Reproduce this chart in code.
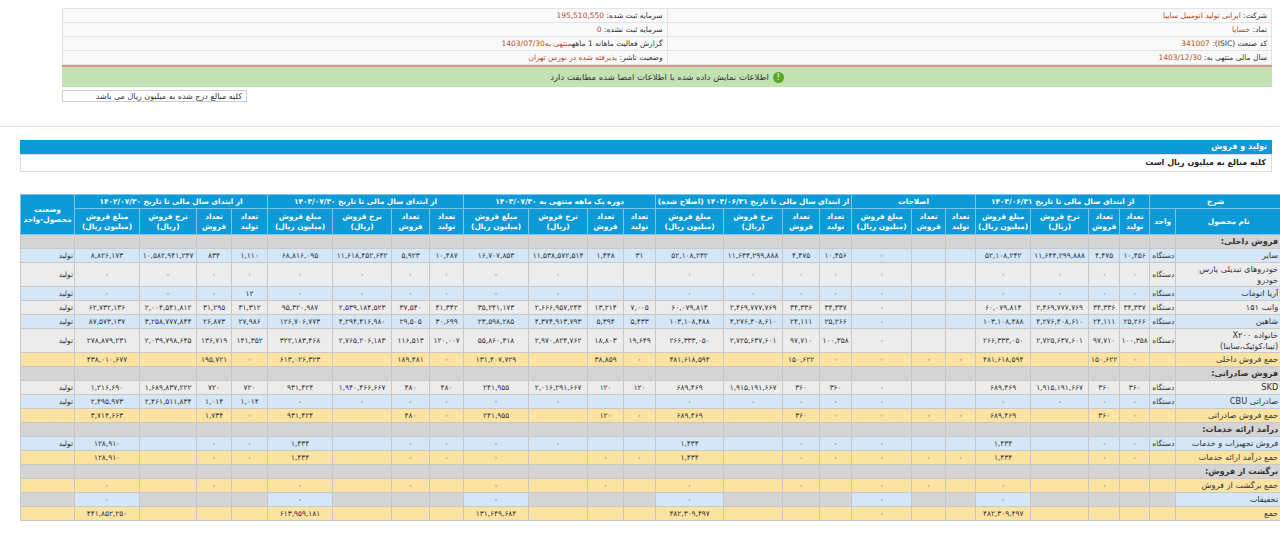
<!DOCTYPE html>
<html lang="fa" dir="rtl">
<head>
<meta charset="utf-8">
<script src="https://cdn.jsdelivr.net/npm/chart.js@4"></script>
<style>
  body { margin: 0; background: #fff; font-family: "DejaVu Sans", sans-serif; font-size: 8px; color: #333; }
  .info { position: absolute; left: 62px; top: 8px; width: 1210px; border-collapse: collapse; }
  .info td { height: 13px; border: 1px solid #e3e3e3; background: #f9f9f9; padding: 0 4px; width: 50%; white-space: nowrap; font-size: 7.5px; }
  .info .v { color: #b0502a; }
  .green { position: absolute; left: 62px; top: 65px; width: 1210px; height: 20px; background: #c3e2b4; border-top: 2px solid #d9968a; text-align: center; line-height: 20px; font-size: 8.5px; }
  .green i { display: inline-block; width: 11px; height: 11px; border-radius: 6px; background: #5aa62a; color: #fff; font-style: normal; line-height: 11px; vertical-align: middle; margin-left: 4px; }
  .note { position: absolute; left: 62px; top: 90px; width: 185px; height: 12px; border: 1px solid #ccc; line-height: 12px; padding-right: 4px; box-sizing: border-box; }
  .sep { position: absolute; left: 0; top: 126px; width: 1280px; border-top: 1px solid #ddd; }
  .sec { position: absolute; left: 20px; top: 140px; width: 1252px; }
  .sec .t { background: #0d9ad6; color: #fff; font-weight: bold; height: 14px; line-height: 14px; padding-right: 5px; }
  .sec .s { border: 1px solid #ddd; height: 16px; line-height: 16px; padding-right: 5px; font-weight: bold; color: #222; }
  #tbl { position: absolute; left: 20px; top: 194px; width: 1252px; border-collapse: collapse; table-layout: fixed; }
  #tbl td, #tbl th { border: 1px solid #c8c8c8; padding: 0 1px; height: 13px; white-space: nowrap; overflow: hidden; font-weight: normal; font-size: 7.4px; }
  #tbl th { background: #0d9ad6; color: #fff; font-weight: bold; border-color: #7cc4e8; text-align: center; white-space: normal; line-height: 10px; }
  #tbl tr.g th { white-space: nowrap; }
  #tbl td.n { text-align: center; }
  #tbl td.nm { text-align: right; white-space: normal; line-height: 11px; padding-right: 3px; font-size: 8.2px; }
  tr.blue td { background: #d5e6f6; }
  tr.grey td { background: #ececec; }
  tr.tot td { background: #fde3a1; }
  tr.lab td { background: #d4d4d4; font-weight: bold !important; }
  tr.disc td { background: #d4d4d4; }
  tr.disc td.a, tr.disc td.nm { background: #d5e6f6; }
</style>
</head>
<body>
<table class="info">
  <tr><td>شرکت: <span class="v">ایرانی تولید اتومبیل سایپا</span></td><td>سرمایه ثبت شده: <span class="v">195,510,550</span></td></tr>
  <tr><td>نماد: <span class="v">خسایا</span></td><td>سرمایه ثبت نشده: <span class="v">0</span></td></tr>
  <tr><td>کد صنعت (ISIC): <span class="v">341007</span></td><td>گزارش فعالیت ماهانه 1 ماهه<span class="v">منتهی به1403/07/30</span></td></tr>
  <tr><td>سال مالی منتهی به: <span class="v">1403/12/30</span></td><td>وضعیت ناشر: <span class="v">پذیرفته شده در بورس تهران</span></td></tr>
</table>
<div class="green"><i>!</i>اطلاعات نمایش داده شده با اطلاعات امضا شده مطابقت دارد</div>
<div class="note">کلیه مبالغ درج شده به میلیون ریال می باشد</div>
<div class="sep"></div>
<div class="sec"><div class="t">تولید و فروش</div><div class="s">کلیه مبالغ به میلیون ریال است</div></div>
<table id="tbl"></table>
<script>
// column groups (right to left)
const groupTitles = ['از ابتدای سال مالی تا تاریخ ۱۴۰۳/۰۶/۳۱', 'اصلاحات', 'از ابتدای سال مالی تا تاریخ ۱۴۰۳/۰۶/۳۱ (اصلاح شده)', 'دوره یک ماهه منتهی به ۱۴۰۳/۰۷/۳۰', 'از ابتدای سال مالی تا تاریخ ۱۴۰۳/۰۷/۳۰', 'از ابتدای سال مالی تا تاریخ ۱۴۰۲/۰۷/۳۰'];
const subFull = ['تعداد تولید', 'تعداد فروش', 'نرخ فروش (ریال)', 'مبلغ فروش (میلیون ریال)'];
const subAdj = ['تعداد تولید', 'تعداد فروش', 'مبلغ فروش (میلیون ریال)'];

const rowNames = ['فروش داخلی:', 'سایر', 'خودروهای تبدیلی پارس خودرو', 'آریا اتومات', 'وانت ۱۵۱', 'شاهین', 'خانواده X۲۰۰ (تیبا،کوئیک،ساینا)', 'جمع فروش داخلی', 'فروش صادراتی:', 'SKD', 'صادراتی CBU', 'جمع فروش صادراتی', 'درآمد ارائه خدمات:', 'فروش تجهیزات و خدمات', 'جمع درآمد ارائه خدمات', 'برگشت از فروش:', 'جمع برگشت از فروش', 'تخفیفات', 'جمع'];
const rowKinds = ['lab', 'blue', 'grey', 'blue', 'grey', 'blue', 'grey', 'tot', 'lab', 'grey', 'blue', 'tot', 'lab', 'blue', 'tot', 'lab', 'tot', 'disc', 'tot'];
const units = ['', 'دستگاه', 'دستگاه', 'دستگاه', 'دستگاه', 'دستگاه', 'دستگاه', '', '', 'دستگاه', 'دستگاه', '', '', 'دستگاه', '', '', '', '', ''];
const status = ['', 'تولید', 'تولید', 'تولید', 'تولید', 'تولید', 'تولید', '', '', 'تولید', 'تولید', '', '', 'تولید', '', '', '', '', ''];

// 1403/06/31: production, sales, rate, amount
const ytdJun = [null,
  ['10,456', '4,475', '11,644,299,888', '52,108,242'], ['0', '0', '0', '0'], ['0', '0', '0', '0'],
  ['34,337', '34,336', '2,469,777,769', '60,079,814'], ['25,266', '24,111', '4,276,408,610', '103,108,488'],
  ['100,358', '97,710', '2,725,637,601', '266,333,050'], ['0', '150,622', '', '481,618,594'], null,
  ['360', '360', '1,915,191,667', '689,469'], ['0', '0', '0', '0'], ['0', '360', '', '689,469'], null,
  ['0', '0', '', '1,434'], ['0', '0', '', '1,434'], null, ['', '0', '', '0'], ['', '', '', '0'], ['', '', '', '482,309,497']];
// adjustments: production, sales, amount
const adjust = [null, ['', '', '0'], ['', '', '0'], ['', '', '0'], ['', '', '0'], ['', '', '0'], ['', '', '0'], ['0', '0', '0'], null,
  ['', '', '0'], ['', '', '0'], ['0', '0', '0'], null, ['', '', '0'], ['0', '0', '0'], null, ['', '0', '0'], ['', '', '0'], ['', '', '0']];
// 1403/06/31 adjusted
const ytdJunAdj = ytdJun;
// one month to 1403/07/30
const month = [null,
  ['31', '1,448', '11,538,572,514', '16,707,853'], ['', '', '0', '0'], ['', '', '0', '0'],
  ['7,005', '13,214', '2,666,957,243', '35,241,173'], ['5,433', '5,394', '4,374,913,793', '23,598,285'],
  ['19,649', '18,803', '2,970,824,762', '55,860,418'], ['0', '38,859', '', '131,407,729'], null,
  ['120', '120', '2,016,291,667', '241,955'], ['', '', '0', '0'], ['0', '120', '', '241,955'], null,
  ['', '', '0', '0'], ['0', '0', '', '0'], null, ['', '0', '', '0'], ['', '', '', '0'], ['', '', '', '131,649,684']];
// 1403 year to date
const ytd1403 = [null,
  ['10,487', '5,923', '11,618,452,642', '68,816,095'], ['0', '0', '0', '0'], ['0', '0', '0', '0'],
  ['41,342', '37,540', '2,539,184,523', '95,320,987'], ['30,699', '29,505', '4,294,416,980', '126,706,773'],
  ['120,007', '116,513', '2,765,206,183', '322,183,468'], ['0', '189,481', '', '613,026,323'], null,
  ['480', '480', '1,940,466,667', '931,424'], ['0', '0', '0', '0'], ['0', '480', '', '931,424'], null,
  ['0', '0', '', '1,434'], ['0', '0', '', '1,434'], null, ['', '0', '', '0'], ['', '', '', '0'], ['', '', '', '613,959,181']];
// 1402 year to date
const ytd1402 = [null,
  ['1,110', '834', '10,582,941,247', '8,826,173'], ['0', '0', '0', '0'], ['12', '0', '0', '0'],
  ['31,312', '31,295', '2,004,541,812', '62,732,136'], ['27,986', '26,873', '3,258,777,844', '87,573,137'],
  ['141,352', '136,719', '2,039,798,645', '278,879,231'], ['0', '195,721', '', '438,010,677'], null,
  ['720', '720', '1,689,837,222', '1,216,690'], ['1,014', '1,014', '2,461,511,834', '2,495,973'], ['0', '1,734', '', '3,714,663'], null,
  ['0', '0', '', '128,910'], ['0', '0', '', '128,910'], null, ['', '0', '', '0'], ['', '', '', '0'], ['', '', '', '441,852,250']];

const groups = [ytdJun, adjust, ytdJunAdj, month, ytd1403, ytd1402];
const fa = s => String(s).replace(/\d/g, d => '۰۱۲۳۴۵۶۷۸۹'[d]);

const widths = [106, 26, 30, 31, 58, 55, 30, 34, 60, 32, 37, 59, 68, 32, 36, 59, 65, 34, 38, 59, 65, 36, 35, 57, 65, 54];
let html = '<colgroup>' + widths.map(w => `<col style="width:${w}px">`).join('') + '</colgroup>';
html += '<tr class="g"><th colspan="2">شرح</th>' + groupTitles.map((t, i) => `<th colspan="${i === 1 ? 3 : 4}">${t}</th>`).join('') + '<th rowspan="2" style="white-space:normal">وضعیت محصول-واحد</th></tr>';
html += '<tr style="height:26px"><th>نام محصول</th><th>واحد</th>' + groups.map((g, i) => (i === 1 ? subAdj : subFull).map(s => `<th>${s}</th>`).join('')).join('') + '</tr>';
rowNames.forEach((name, r) => {
  const kind = rowKinds[r];
  let tr = `<tr class="${kind}"${r === 2 || r === 6 ? ' style="height:24px"' : ''}><td class="nm">${fa(name)}</td><td>${units[r]}</td>`;
  groups.forEach((g, i) => {
    const n = i === 1 ? 3 : 4;
    for (let c = 0; c < n; c++) {
      const v = g[r] ? g[r][c] : '';
      const isAmt = c === n - 1;
      tr += `<td class="n${isAmt && kind === 'disc' ? ' a' : ''}">${fa(v)}</td>`;
    }
  });
  tr += `<td>${status[r]}</td></tr>`;
  html += tr;
});
document.getElementById('tbl').innerHTML = html;
</script>
</body>
</html>
